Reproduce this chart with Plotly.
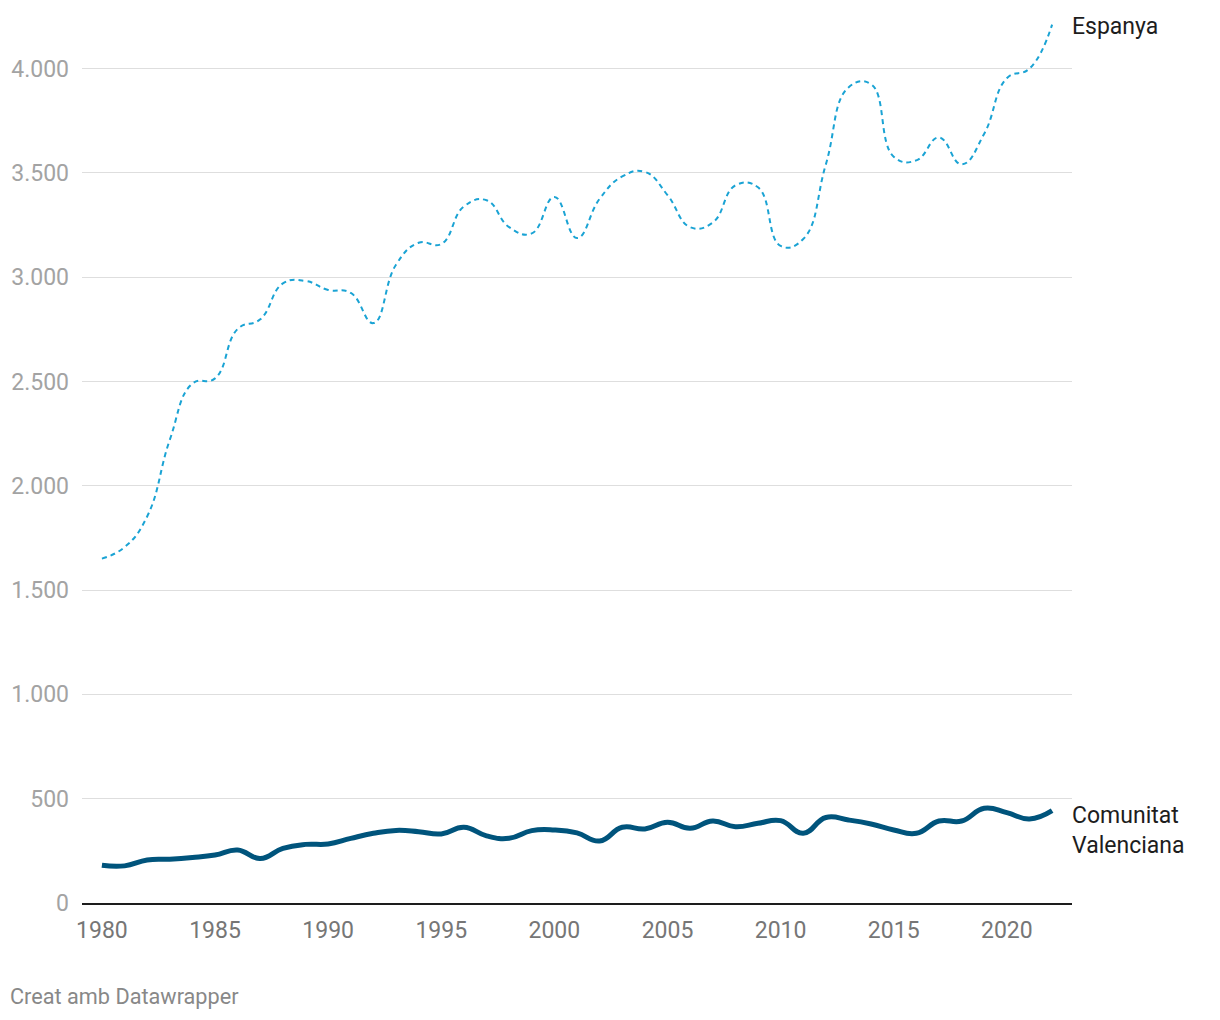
import plotly.graph_objects as go

years = list(range(1980, 2023))

espanya = [1651, 1706, 1853, 2220, 2490, 2515, 2752, 2798, 2970, 2982,
           2939, 2925, 2780, 3060, 3165, 3159, 3339, 3369, 3240, 3210,
           3385, 3188, 3376, 3483, 3505, 3394, 3240, 3262, 3440, 3431,
           3150, 3183, 3541, 3910, 3925, 3578, 3560, 3670, 3541, 3688,
           3954, 4000, 4211]

valenciana = [181, 178, 206, 210, 218, 230, 254, 213, 262, 281,
              283, 310, 334, 348, 342, 331, 363, 322, 310, 347,
              350, 336, 297, 363, 355, 387, 358, 393, 366, 382,
              395, 334, 410, 398, 379, 350, 334, 393, 393, 454,
              433, 403, 443]

y_ticks = [0, 500, 1000, 1500, 2000, 2500, 3000, 3500, 4000]
x_ticks = [1980, 1985, 1990, 1995, 2000, 2005, 2010, 2015, 2020]

label_espanya = "Espanya"
label_valenciana = "Comunitat<br>Valenciana"
credit = "Creat amb Datawrapper"

FONT = "Roboto, 'Noto Sans', sans-serif"

fig = go.Figure()
fig.add_trace(go.Scatter(
    x=years, y=espanya, mode="lines", name="Espanya",
    line=dict(color="#1aa3d4", width=2, dash="5px,4px", shape="spline", smoothing=1.3),
    hoverinfo="skip",
))
fig.add_trace(go.Scatter(
    x=years, y=valenciana, mode="lines", name="Comunitat Valenciana",
    line=dict(color="#00547c", width=5, shape="spline", smoothing=1.3),
    hoverinfo="skip",
))

fig.update_layout(
    width=1220, height=1020,
    margin=dict(l=82, r=148, t=10, b=117),
    paper_bgcolor="white", plot_bgcolor="white",
    showlegend=False,
    separators=",.",
    font=dict(family=FONT, size=23, color="#1d1d1d"),
    xaxis=dict(
        range=[1979.12, 2022.88],
        tickvals=x_ticks,
        ticks="", showgrid=False, zeroline=False,
        showline=True, linecolor="#1d1d1d", linewidth=2,
        tickfont=dict(family=FONT, size=23, color="#767676"),
        ticklabelstandoff=5,
        fixedrange=True,
    ),
    yaxis=dict(
        range=[0, 4281],
        tickvals=y_ticks,
        tickformat=",d",
        ticks="", showgrid=True, gridcolor="#dedede", gridwidth=1,
        zeroline=False, showline=False,
        tickfont=dict(family=FONT, size=23, color="#a3a3a3"),
        ticklabelstandoff=12,
        fixedrange=True,
    ),
    annotations=[
        dict(x=years[-1], y=espanya[-1], xref="x", yref="y",
             text=label_espanya, showarrow=False, xanchor="left", yanchor="middle",
             xshift=18, yshift=-2, font=dict(family=FONT, size=23, color="#1d1d1d"), align="left"),
        dict(x=years[-1], y=valenciana[-1], xref="x", yref="y",
             text=label_valenciana, showarrow=False, xanchor="left", yanchor="top",
             xshift=18, yshift=11, font=dict(family=FONT, size=23, color="#1d1d1d"), align="left"),
        dict(x=(8 - 82) / 990, y=(903 - 997) / 893, xref="paper", yref="paper",
             text=credit, showarrow=False, xanchor="left", yanchor="middle",
             font=dict(family=FONT, size=21.7, color="#888888"), align="left"),
    ],
)

fig.write_html("out.html")
